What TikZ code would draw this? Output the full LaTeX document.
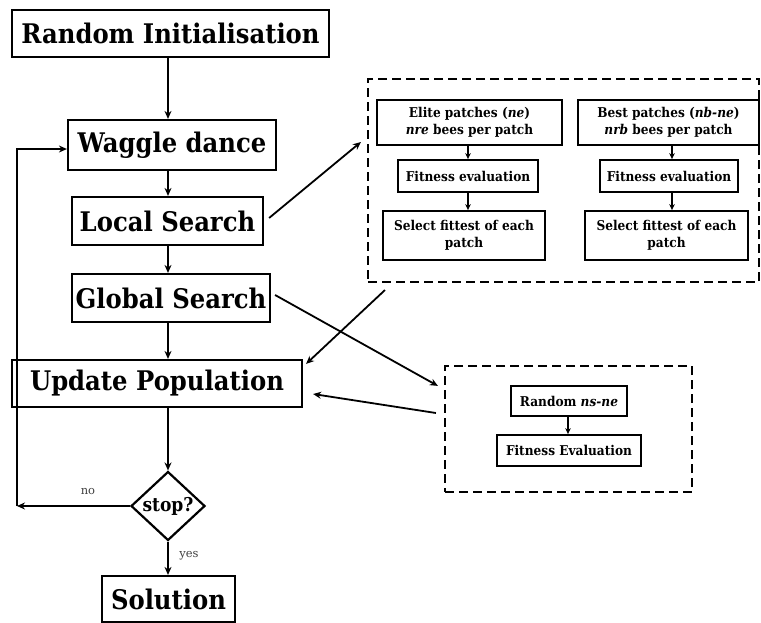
\documentclass[tikz,border=0pt]{standalone}
\usepackage{fontspec}
\setmainfont{DejaVu Serif}
\newfontfamily\slab[FakeStretch=0.9]{DejaVu Serif}
\usetikzlibrary{arrows.meta,shapes.geometric}
\tikzset{
  mainbox/.style={draw, line width=2.2pt, inner sep=0pt, font=\slab\bfseries\fontsize{27}{30}\selectfont},
  subbox/.style={draw, line width=1.8pt, inner sep=0pt, align=center, font=\slab\bfseries\fontsize{13.5}{16.5}\selectfont},
  dbox/.style={draw, line width=2.2pt, dash pattern=on 9pt off 5pt, inner sep=0pt},
  arr/.style={line width=1.8pt, -{Stealth[length=8pt,width=7pt]}},
  sarr/.style={line width=1.6pt, -{Stealth[length=6pt,width=5.5pt]}},
  lbl/.style={font=\fontsize{11.5}{13}\selectfont, text=black!75}
}
\begin{document}
\begin{tikzpicture}[x=1pt,y=-1pt]
\useasboundingbox (0,0) rectangle (761,622);
% main column
\node[mainbox, minimum width=317pt, minimum height=47pt] (init) at (170.5,33.5) {Random Initialisation};
\node[mainbox, minimum width=208pt, minimum height=50pt] (waggle) at (172,145) {Waggle dance};
\node[mainbox, minimum width=191pt, minimum height=48pt] (local) at (167.5,221) {Local Search};
\node[mainbox, minimum width=198pt, minimum height=48pt] (global) at (171,298) {Global Search};
\node[mainbox, minimum width=290pt, minimum height=47pt] (update) at (157,383.5) {Update Population};
\node[draw, diamond, line width=2.2pt, inner sep=0pt, minimum width=74pt, minimum height=68pt,
      font=\slab\bfseries\fontsize{19}{21}\selectfont] (stop) at (168,506) {stop?};
\node[mainbox, minimum width=133pt, minimum height=46pt] (sol) at (168.5,599) {Solution};
\coordinate (col) at (168,0);
\coordinate (lp) at (17,506);
\draw[arr] (init.south -| col) -- (waggle.north -| col);
\draw[arr] (waggle.south -| col) -- (local.north -| col);
\draw[arr] (local.south -| col) -- (global.north -| col);
\draw[arr] (global.south -| col) -- (update.north -| col);
\draw[arr] (update.south -| col) -- (stop.north);
\draw[arr] (stop.south) -- (sol.north -| stop.south);
\draw[arr] (stop.west) -- (lp);
\draw[arr] (lp) |- ([yshift=-4pt]waggle.west);
\node[lbl] (no) at (88,492) {no};
\node[lbl] (yes) at (189,556) {yes};
% dashed box 1
\node[dbox, minimum width=391pt, minimum height=203pt] (d1) at (563.5,180.5) {};
\node[subbox, minimum width=185pt, minimum height=45pt] (elite) at (469.5,122.5) {Elite patches (\textit{ne})\\\textit{nre} bees per patch};
\node[subbox, minimum width=140pt, minimum height=32pt] (fit1) at (468,176) {Fitness evaluation};
\node[subbox, minimum width=162pt, minimum height=49pt] (sel1) at (464,235.5) {Select fittest of each\\patch};
\node[subbox, minimum width=181pt, minimum height=45pt] (best) at (668.5,122.5) {Best patches (\textit{nb-ne})\\\textit{nrb} bees per patch};
\node[subbox, minimum width=138pt, minimum height=32pt] (fit2) at (669,176) {Fitness evaluation};
\node[subbox, minimum width=163pt, minimum height=49pt] (sel2) at (666.5,235.5) {Select fittest of each\\patch};
\coordinate (c1) at (468,0);
\coordinate (c2) at (672,0);
\draw[sarr] (elite.south -| c1) -- (fit1.north -| c1);
\draw[sarr] (fit1.south -| c1) -- (sel1.north -| c1);
\draw[sarr] (best.south -| c2) -- (fit2.north -| c2);
\draw[sarr] (fit2.south -| c2) -- (sel2.north -| c2);
% dashed box 2
\node[dbox, minimum width=247pt, minimum height=126pt] (d2) at (568.5,429) {};
\node[subbox, minimum width=116pt, minimum height=30pt] (rnd) at (569,401) {Random \textit{ns-ne}};
\node[subbox, minimum width=144pt, minimum height=31pt] (fit3) at (569,450.5) {Fitness Evaluation};
\draw[sarr] (rnd.south -| 568,0) -- (fit3.north -| 568,0);
% cross connectors
\draw[arr] ([xshift=5pt,yshift=3pt]local.east) -- ([xshift=-6pt,yshift=38.5pt]d1.west);
\draw[arr] ([xshift=18pt,yshift=-7pt]d1.south west) -- ([xshift=3pt,yshift=-5pt]update.north east);
\draw[arr] ([xshift=4pt,yshift=3pt]global.east) -- ([xshift=-6pt,yshift=-21pt]d2.north west);
\draw[arr] ([xshift=-8pt,yshift=16pt]d2.west) -- ([xshift=10pt,yshift=-10.5pt]update.east);
\end{tikzpicture}
\end{document}
